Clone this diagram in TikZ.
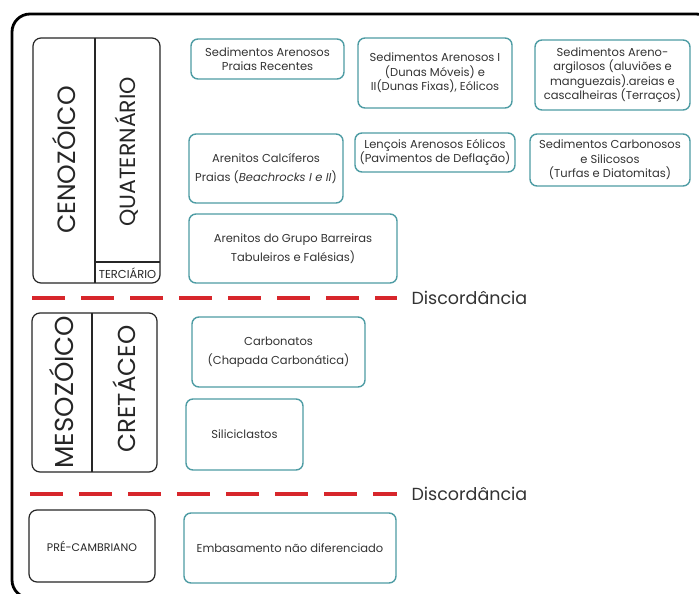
\documentclass[tikz,border=0pt]{standalone}
\usepackage{fontspec}
\setmainfont{Poppins}
\definecolor{teal1}{HTML}{4E9CA4}
\definecolor{red1}{HTML}{D7262B}
\begin{document}
\begin{tikzpicture}[x=1pt,y=-1pt,
  tbox/.style={draw=teal1,line width=1.4pt,rounded corners=7pt,align=center,inner sep=0pt,
    font=\fontsize{11.5}{14.5}\selectfont,text=black!80},
  wide/.style={font=\fontsize{11.5}{19}\selectfont},
  kbox/.style={draw=black!85,line width=1.2pt,rounded corners=8pt,inner sep=0pt},
  big/.style={rotate=90,text=black!85},
  disc/.style={draw=red1,line width=4pt,dash pattern=on 33pt off 16pt},
  disctext/.style={anchor=west,font=\fontsize{17.5}{19}\selectfont,text=black!80}]
\useasboundingbox (0,0) rectangle (699,594);
\fill[white] (0,0) rectangle (699,594);
% outer frame
\draw[line width=2.8pt,rounded corners=18pt] (12,14) rectangle (714,598);

% Cenozoic block
\node[kbox,minimum width=127pt,minimum height=245pt] (ceno) at (96.5,160.5) {};
\coordinate (cdt) at (95,38); \coordinate (cdb) at (95,283);
\draw[line width=1.2pt,black!85] (cdt) -- (cdb);
\coordinate (tl) at (95,262); \coordinate (tr) at (160,262);
\draw[line width=1.2pt,black!85] (tl) -- (tr);
\node[big,font=\fontsize{25}{27}\selectfont] (cenot) at (64,160) {CENOZÓICO};
\node[big,font=\fontsize{22}{24}\selectfont] (quat) at (127,152) {QUATERNÁRIO};
\node[font=\fontsize{11.5}{12}\selectfont,text=black!85] (terc) at (127.5,273) {TERCIÁRIO};

% Mesozoic block
\node[kbox,minimum width=125pt,minimum height=159pt] (meso) at (94.5,392.5) {};
\coordinate (mdt) at (92,313); \coordinate (mdb) at (92,472);
\draw[line width=1.2pt,black!85] (mdt) -- (mdb);
\node[big,font=\fontsize{26}{28}\selectfont] (mesot) at (62,392) {MESOZÓICO};
\node[big,font=\fontsize{24.5}{26}\selectfont] (cret) at (124,389) {CRETÁCEO};

% Precambrian
\node[kbox,minimum width=126pt,minimum height=72pt,font=\fontsize{11}{12}\selectfont,text=black!85] (pre) at (92,546) {PRÉ-CAMBRIANO};

% teal boxes
\node[tbox,minimum width=153pt,minimum height=40pt] (b1) at (267.5,59) {Sedimentos Arenosos\\Praias Recentes};
\node[tbox,wide,minimum width=154pt,minimum height=69pt] (b2) at (266,168.5) {Arenitos Calcíferos\\Praias (\textit{Beachrocks I e II})};
\node[tbox,wide,minimum width=208pt,minimum height=69pt] (b3) at (293,248.5) {Arenitos do Grupo Barreiras\\Tabuleiros e Falésias)};
\node[tbox,minimum width=154pt,minimum height=70pt] (b4) at (435,73) {Sedimentos Arenosos I\\(Dunas Móveis) e\\II(Dunas Fixas), Eólicos};
\node[tbox,minimum width=155pt,minimum height=70pt] (b5) at (612.5,75) {Sedimentos Areno-\\argilosos (aluviões e\\manguezais).areias e\\cascalheiras (Terraços)};
\node[tbox,minimum width=160pt,minimum height=39pt] (b6) at (435,152.5) {Lençois Arenosos Eólicos\\(Pavimentos de Deflação)};
\node[tbox,minimum width=160pt,minimum height=52pt] (b7) at (610,160) {Sedimentos Carbonosos\\e Silicosos\\(Turfas e Diatomitas)};
\node[tbox,wide,minimum width=173pt,minimum height=70pt] (b8) at (278.5,352) {Carbonatos\\(Chapada Carbonática)};
\node[tbox,minimum width=117pt,minimum height=71pt] (b9) at (244.5,434.5) {Siliciclastos};
\node[tbox,minimum width=212pt,minimum height=70pt] (b10) at (290,548) {Embasamento não diferenciado};

% discordances
\coordinate (d1a) at (32,298); \coordinate (d1b) at (397,298);
\draw[disc] (d1a) -- (d1b);
\node[disctext] (t1) at (408,298) {Discordância};
\coordinate (d2a) at (30,494); \coordinate (d2b) at (397,494);
\draw[disc] (d2a) -- (d2b);
\node[disctext] (t2) at (408,494) {Discordância};
\end{tikzpicture}
\end{document}
